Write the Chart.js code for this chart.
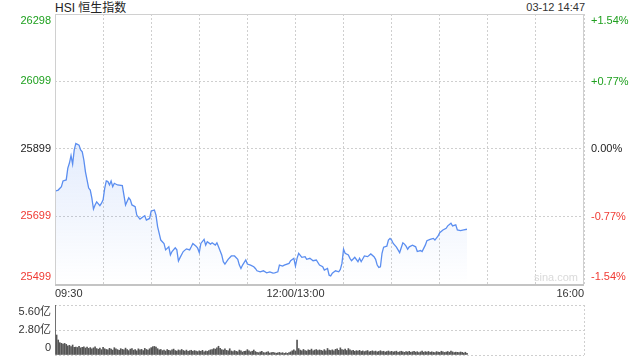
<!DOCTYPE html>
<html>
<head>
<meta charset="utf-8">
<script src="https://cdn.jsdelivr.net/npm/chart.js@4.4.1/dist/chart.umd.min.js"></script>
<style>
  body { margin: 0; background: #fff; width: 640px; height: 360px; overflow: hidden; position: relative;
         font-family: "Liberation Sans", Arial, "Noto Sans CJK SC", sans-serif; }
  #title { position: absolute; left: 55px; top: 1px; font-size: 12px; line-height: 14px; color: #222; }
  #stamp { position: absolute; right: 55px; top: 0px; font-size: 11px; line-height: 14px; color: #333; }
  #priceChart { position: absolute; left: 0; top: 0; }
  #volChart { position: absolute; left: 0; top: 290px; }
</style>
</head>
<body>
<div id="title">HSI 恒生指数</div>
<div id="stamp">03-12 14:47</div>
<canvas id="priceChart" width="640" height="300"></canvas>
<canvas id="volChart" width="640" height="70"></canvas>
<script>
// minutes since 09:30 (12:00 and 13:00 share slot 150)
const priceMinutes = [0, 2, 4, 5, 7, 8, 9, 10, 11, 12, 13, 15, 16, 17, 18, 19, 21, 22, 23, 24,
  25, 26, 28, 29, 30, 31, 32, 33, 34, 35, 36, 37, 39, 42, 43, 44, 46, 47, 48, 50,
  51, 53, 55, 56, 57, 59, 60, 62, 63, 64, 66, 68, 69, 71, 72, 73, 75, 76, 77, 78,
  80, 82, 84, 85, 86, 88, 89, 90, 91, 93, 94, 95, 97, 98, 100, 101, 102, 104, 105, 106,
  108, 110, 112, 114, 115, 116, 117, 119, 120, 122, 124, 125, 126, 128, 130, 132, 134, 136, 137, 139,
  140, 142, 143, 146, 147, 149, 150, 151, 152, 154, 156, 157, 159, 161, 163, 165, 167, 168, 170, 171,
  172, 173, 175, 177, 178, 179, 180, 181, 183, 184, 185, 187, 189, 190, 191, 193, 195, 197, 199, 200,
  201, 202, 203, 204, 205, 207, 208, 209, 210, 211, 213, 214, 215, 217, 218, 219, 220, 221, 223, 225,
  226, 228, 229, 231, 232, 234, 236, 237, 239, 240, 242, 244, 245, 247, 248, 250, 251, 253, 255, 257];
const priceValues = [25774, 25777, 25787, 25804, 25807, 25842, 25857, 25879, 25854, 25896, 25915, 25910, 25896, 25890, 25866, 25831, 25783, 25777, 25753, 25721,
  25733, 25742, 25731, 25738, 25748, 25782, 25804, 25802, 25792, 25804, 25787, 25797, 25792, 25790, 25762, 25733, 25754, 25748, 25733, 25728,
  25703, 25691, 25698, 25701, 25688, 25693, 25715, 25718, 25703, 25669, 25629, 25619, 25600, 25609, 25585, 25595, 25606, 25600, 25567, 25577,
  25595, 25603, 25600, 25609, 25619, 25611, 25605, 25592, 25619, 25631, 25614, 25624, 25617, 25621, 25614, 25621, 25609, 25585, 25565, 25558,
  25572, 25582, 25582, 25572, 25555, 25545, 25555, 25570, 25558, 25555, 25550, 25545, 25538, 25535, 25538, 25532, 25535, 25531, 25532, 25535,
  25555, 25552, 25555, 25560, 25568, 25575, 25552, 25575, 25590, 25578, 25580, 25572, 25575, 25568, 25570, 25555, 25550, 25540, 25545, 25525,
  25523, 25531, 25538, 25535, 25542, 25560, 25602, 25590, 25585, 25575, 25568, 25578, 25565, 25575, 25565, 25582, 25580, 25588, 25580, 25572,
  25555, 25548, 25550, 25590, 25608, 25611, 25629, 25634, 25629, 25619, 25608, 25600, 25592, 25621, 25617, 25611, 25602, 25609, 25614, 25609,
  25595, 25598, 25595, 25614, 25627, 25631, 25634, 25629, 25641, 25651, 25659, 25664, 25671, 25679, 25671, 25674, 25659, 25657, 25659, 25661];

// volume per minute slot, 亿
const volumes = [6.8, 2.24, 1.68, 1.38, 1.31, 1.23, 1.30, 1.19, 1.02, 1.08, 0.95, 1.12, 0.86, 0.90, 0.84, 0.97, 0.80, 0.86, 0.92, 0.78,
  0.88, 0.74, 0.83, 0.69, 0.80, 0.91, 0.72, 0.65, 0.78, 0.60, 0.85, 0.70, 0.62, 0.58, 0.75, 0.66, 0.55, 0.82, 0.68, 0.60,
  0.52, 0.71, 0.63, 0.58, 0.77, 0.61, 0.49, 0.66, 0.72, 0.54, 0.60, 0.47, 0.69, 0.57, 0.63, 0.50, 0.74, 0.62, 0.55, 0.70,
  0.82, 0.93, 0.96, 0.88, 0.71, 0.58, 0.62, 0.49, 0.55, 0.44, 0.61, 0.52, 0.47, 0.58, 0.66, 0.50, 0.43, 0.57, 0.49, 0.62,
  0.51, 0.45, 0.55, 0.40, 0.48, 0.53, 0.42, 0.50, 0.44, 0.38, 0.47, 0.41, 0.52, 0.36, 0.45, 0.40, 0.49, 0.58, 0.62, 0.71,
  0.66, 0.81, 0.98, 0.74, 0.60, 0.55, 0.68, 0.52, 0.47, 0.70, 0.45, 0.38, 0.50, 0.42, 0.36, 0.55, 0.47, 0.33, 0.40, 0.44,
  0.60, 0.48, 0.35, 0.42, 0.56, 0.39, 0.30, 0.26, 0.34, 0.41, 0.28, 0.24, 0.32, 0.37, 0.22, 0.27, 0.31, 0.25, 0.20, 0.24,
  0.29, 0.21, 0.26, 0.18, 0.23, 0.19, 0.28, 0.35, 0.47, 0.58, 0.45, 1.68,
  0.72, 0.55, 0.48, 0.62, 0.50, 0.44, 0.58, 0.52, 0.66, 0.47, 0.55, 0.61, 0.49, 0.57, 0.52, 0.45, 0.60, 0.48, 0.73, 0.54,
  0.50, 0.58, 0.46, 0.63, 0.69, 0.52, 0.80, 0.61, 0.55, 0.66, 0.50, 0.72, 0.58, 0.47, 0.53, 0.41, 0.49, 0.44, 0.52, 0.40,
  0.46, 0.38, 0.43, 0.50, 0.36, 0.41, 0.47, 0.39, 0.44, 0.35, 0.40, 0.48, 0.37, 0.42, 0.33, 0.39, 0.45, 0.36, 0.41, 0.34,
  0.38, 0.43, 0.31, 0.37, 0.42, 0.35, 0.30, 0.39, 0.34, 0.41, 0.29, 0.36, 0.40, 0.32, 0.37, 0.28, 0.35, 0.43, 0.31, 0.38,
  0.33, 0.40, 0.29, 0.36, 0.31, 0.27, 0.38, 0.34, 0.30, 0.42, 0.36, 0.29, 0.33, 0.39, 0.31, 0.45, 0.35, 0.28, 0.32, 0.30,
  0.26, 0.34, 0.29, 0.22, 0.31, 0.18];

const prevClose = 25899;
const priceTicks = [25499, 25699, 25899, 26099, 26298];
const pctTicks = [-1.54, -0.77, 0, 0.77, 1.54];
const volTicks = [0, 2.8, 5.6];
const timeTicks = [0, 150, 330];
const timeLabels = ['09:30', '12:00/13:00', '16:00'];

const UP = '#1fa01f';
const DOWN = '#f03a33';
const FLAT = '#222';
const GRID = '#cfcfcf';

Chart.defaults.font.family = '"Liberation Sans", Arial, "Noto Sans CJK SC", sans-serif';
Chart.defaults.font.size = 11;
Chart.defaults.animation = false;

function sideColor(v, mid) {
  return v > mid ? UP : (v < mid ? DOWN : FLAT);
}

// push top label down and bottom label up so they sit inside the frame
function edgeLabel(text, index, count) {
  if (index === count - 1) return ['', text];
  if (index === 0) return [text, ''];
  return text;
}

// fixed axis sizes, no extra room for overhanging labels
function fixSize(w, h) {
  return (s) => {
    if (w !== null) s.width = w;
    if (h !== null) s.height = h;
    s.paddingTop = 0;
    s.paddingBottom = 0;
    s.paddingLeft = 0;
    s.paddingRight = 0;
  };
}

const frame = {
  id: 'frame',
  beforeDatasetsDraw(chart) {
    const a = chart.chartArea;
    const ctx = chart.ctx;
    ctx.save();
    ctx.fillStyle = '#dadada';
    ctx.font = '11px "Liberation Sans", Arial, sans-serif';
    ctx.textAlign = 'right';
    ctx.textBaseline = 'middle';
    ctx.fillText('sina.com', a.right - 6, a.bottom - 6);
    ctx.restore();
  },
  afterDraw(chart) {
    const a = chart.chartArea;
    const ctx = chart.ctx;
    ctx.save();
    ctx.strokeStyle = '#d0d0d0';
    ctx.lineWidth = 1;
    ctx.strokeRect(a.left + 0.5, a.top + 0.5, a.right - a.left - 1, a.bottom - a.top);
    ctx.strokeStyle = '#c4c4c4';
    ctx.lineWidth = 2;
    ctx.beginPath();
    ctx.moveTo(a.left, a.bottom + 1);
    ctx.lineTo(a.right, a.bottom + 1);
    ctx.stroke();
    ctx.restore();
  }
};

new Chart(document.getElementById('priceChart'), {
  type: 'line',
  data: {
    datasets: [{
      data: priceMinutes.map((m, i) => ({ x: m, y: priceValues[i] })),
      borderColor: '#5b8ef0',
      borderWidth: 1.3,
      pointRadius: 0,
      tension: 0,
      fill: 'start',
      backgroundColor: (c) => {
        const a = c.chart.chartArea;
        if (!a) return 'transparent';
        const g = c.chart.ctx.createLinearGradient(0, a.top, 0, a.bottom);
        g.addColorStop(0, 'rgba(91,142,240,0.32)');
        g.addColorStop(1, 'rgba(91,142,240,0)');
        return g;
      }
    }]
  },
  options: {
    responsive: false,
    devicePixelRatio: 1,
    layout: { padding: { top: 14, left: 0, right: 0, bottom: 0 } },
    plugins: { legend: { display: false }, tooltip: { enabled: false } },
    scales: {
      x: {
        type: 'linear',
        min: 0,
        max: 330,
        afterFit: fixSize(null, 16),
        ticks: {
          stepSize: 30,
          autoSkip: false,
          maxRotation: 0,
          align: 'inner',
          padding: 3,
          color: '#333',
          callback: (v) => {
            const i = timeTicks.indexOf(v);
            return i >= 0 ? timeLabels[i] : '';
          }
        },
        grid: { color: GRID, drawTicks: false },
        border: { display: false, dash: [2, 2] }
      },
      y: {
        position: 'left',
        min: priceTicks[0],
        max: priceTicks[priceTicks.length - 1],
        afterFit: fixSize(55, null),
        afterBuildTicks: (s) => { s.ticks = priceTicks.map(v => ({ value: v })); },
        ticks: {
          padding: 4,
          autoSkip: false,
          color: (c) => sideColor(c.tick.value, prevClose),
          callback: (v, i, t) => edgeLabel(String(v), i, t.length)
        },
        grid: { color: GRID, drawTicks: false },
        border: { display: false, dash: [2, 2] }
      },
      y1: {
        position: 'right',
        min: pctTicks[0],
        max: pctTicks[pctTicks.length - 1],
        afterFit: fixSize(56, null),
        afterBuildTicks: (s) => { s.ticks = pctTicks.map(v => ({ value: v })); },
        ticks: {
          padding: 7,
          autoSkip: false,
          color: (c) => sideColor(c.tick.value, 0),
          callback: (v, i, t) => {
            const s = (v > 0 ? '+' : '') + Number(v).toFixed(2) + '%';
            return edgeLabel(s, i, t.length);
          }
        },
        grid: { display: false, drawTicks: false },
        border: { display: false }
      }
    }
  },
  plugins: [frame]
});

new Chart(document.getElementById('volChart'), {
  type: 'bar',
  data: {
    datasets: [{
      data: volumes.map((v, i) => ({ x: i, y: v })),
      backgroundColor: '#555',
      borderWidth: 0,
      barThickness: 1
    }]
  },
  options: {
    responsive: false,
    devicePixelRatio: 1,
    layout: { padding: { top: 15, left: 0, right: 56, bottom: 5 } },
    plugins: { legend: { display: false }, tooltip: { enabled: false } },
    scales: {
      x: {
        type: 'linear',
        min: 0,
        max: 330,
        offset: false,
        afterFit: fixSize(null, 0),
        afterBuildTicks: (s) => { s.ticks = [{ value: 330 }]; },
        ticks: { display: false },
        grid: { color: GRID, drawTicks: false, offset: false },
        border: { display: false, dash: [2, 2] }
      },
      y: {
        min: volTicks[0],
        max: volTicks[volTicks.length - 1],
        afterFit: fixSize(55, null),
        afterBuildTicks: (s) => { s.ticks = volTicks.map(v => ({ value: v })); },
        ticks: {
          padding: 4,
          autoSkip: false,
          color: '#333',
          callback: (v, i, t) => edgeLabel(v === 0 ? '0' : Number(v).toFixed(2) + '亿', i, t.length)
        },
        grid: { color: GRID, drawTicks: false },
        border: { display: false, dash: [2, 2] }
      }
    }
  }
});
</script>
</body>
</html>
